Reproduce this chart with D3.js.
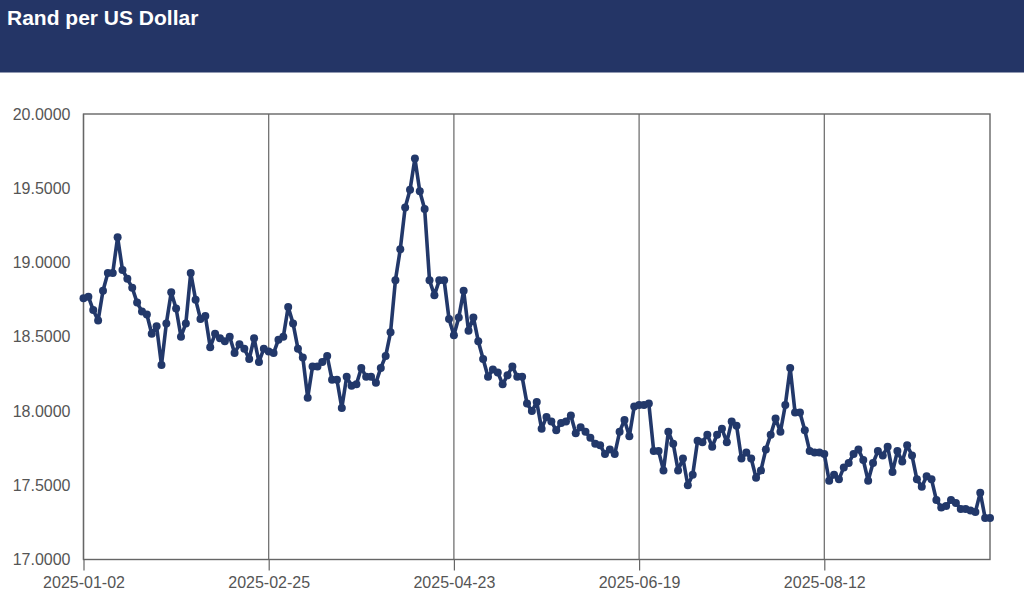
<!DOCTYPE html>
<html>
<head>
<meta charset="utf-8">
<script src="https://cdn.jsdelivr.net/npm/d3@7"></script>
<style>
  html, body { margin: 0; padding: 0; background: #fff; }
  svg { display: block; font-family: "Liberation Sans", Arial, sans-serif; }
</style>
</head>
<body>
<svg id="chart" width="1024" height="599"></svg>
<script>
const title = "Rand per US Dollar";

const dates = [
  "2025-01-02","2025-01-03","2025-01-06","2025-01-07","2025-01-08","2025-01-09","2025-01-10",
  "2025-01-13","2025-01-14","2025-01-15","2025-01-16","2025-01-17","2025-01-20","2025-01-21",
  "2025-01-22","2025-01-23","2025-01-24","2025-01-27","2025-01-28","2025-01-29","2025-01-30","2025-01-31",
  "2025-02-03","2025-02-04","2025-02-05","2025-02-06","2025-02-07","2025-02-10","2025-02-11",
  "2025-02-12","2025-02-13","2025-02-14","2025-02-17","2025-02-18","2025-02-19","2025-02-20",
  "2025-02-21","2025-02-24","2025-02-25","2025-02-26","2025-02-27","2025-02-28",
  "2025-03-03","2025-03-04","2025-03-05","2025-03-06","2025-03-07","2025-03-10","2025-03-11",
  "2025-03-12","2025-03-13","2025-03-14","2025-03-17","2025-03-18","2025-03-19","2025-03-20",
  "2025-03-24","2025-03-25","2025-03-26","2025-03-27","2025-03-28","2025-03-31",
  "2025-04-01","2025-04-02","2025-04-03","2025-04-04","2025-04-07","2025-04-08","2025-04-09",
  "2025-04-10","2025-04-11","2025-04-14","2025-04-15","2025-04-16","2025-04-17","2025-04-22",
  "2025-04-23","2025-04-24","2025-04-25","2025-04-29","2025-04-30",
  "2025-05-02","2025-05-05","2025-05-06","2025-05-07","2025-05-08","2025-05-09","2025-05-12",
  "2025-05-13","2025-05-14","2025-05-15","2025-05-16","2025-05-19","2025-05-20","2025-05-21",
  "2025-05-22","2025-05-23","2025-05-26","2025-05-27","2025-05-28","2025-05-29","2025-05-30",
  "2025-06-02","2025-06-03","2025-06-04","2025-06-05","2025-06-06","2025-06-09","2025-06-10",
  "2025-06-11","2025-06-12","2025-06-13","2025-06-17","2025-06-18","2025-06-19","2025-06-20",
  "2025-06-23","2025-06-24","2025-06-25","2025-06-26","2025-06-27","2025-06-30",
  "2025-07-01","2025-07-02","2025-07-03","2025-07-04","2025-07-07","2025-07-08","2025-07-09",
  "2025-07-10","2025-07-11","2025-07-14","2025-07-15","2025-07-16","2025-07-17","2025-07-18",
  "2025-07-21","2025-07-22","2025-07-23","2025-07-24","2025-07-25","2025-07-28","2025-07-29",
  "2025-07-30","2025-07-31",
  "2025-08-01","2025-08-04","2025-08-05","2025-08-06","2025-08-07","2025-08-08","2025-08-11",
  "2025-08-12","2025-08-13","2025-08-14","2025-08-15","2025-08-18","2025-08-19","2025-08-20",
  "2025-08-21","2025-08-22","2025-08-25","2025-08-26","2025-08-27","2025-08-28","2025-08-29",
  "2025-09-01","2025-09-02","2025-09-03","2025-09-04","2025-09-05","2025-09-08","2025-09-09",
  "2025-09-10","2025-09-11","2025-09-12","2025-09-15","2025-09-16","2025-09-17","2025-09-18",
  "2025-09-19","2025-09-22","2025-09-23","2025-09-25","2025-09-26","2025-09-29","2025-09-30"
];

const rates = [
  18.76,18.77,18.68,18.61,18.81,18.93,18.93,19.17,18.95,18.89,18.83,18.73,18.67,18.65,18.52,18.57,
  18.31,18.59,18.80,18.69,18.50,18.59,18.93,18.75,18.62,18.64,18.43,18.52,18.49,18.47,18.50,18.39,
  18.45,18.42,18.35,18.49,18.33,18.42,18.40,18.39,18.48,18.50,18.70,18.59,18.42,18.36,18.09,18.30,
  18.30,18.33,18.37,18.21,18.21,18.02,18.23,18.17,18.18,18.29,18.23,18.23,18.19,18.29,18.37,18.53,
  18.88,19.09,19.37,19.49,19.70,19.48,19.36,18.88,18.78,18.88,18.88,18.62,18.51,18.63,18.81,18.54,
  18.63,18.47,18.35,18.23,18.28,18.26,18.18,18.24,18.30,18.23,18.23,18.05,18.00,18.06,17.88,17.96,
  17.93,17.87,17.92,17.93,17.97,17.85,17.89,17.86,17.82,17.78,17.77,17.71,17.74,17.71,17.86,17.94,
  17.83,18.03,18.04,18.04,18.05,17.73,17.73,17.60,17.86,17.78,17.60,17.68,17.50,17.57,17.80,17.79,
  17.84,17.76,17.84,17.88,17.79,17.93,17.90,17.68,17.72,17.68,17.55,17.60,17.74,17.84,17.95,17.86,
  18.04,18.29,17.99,17.99,17.87,17.73,17.72,17.72,17.71,17.53,17.57,17.54,17.62,17.65,17.71,17.74,
  17.67,17.53,17.65,17.73,17.70,17.76,17.59,17.73,17.66,17.77,17.70,17.54,17.49,17.56,17.54,17.40,
  17.35,17.36,17.40,17.38,17.34,17.34,17.33,17.32,17.45,17.28,17.28
];

const xTickLabels = ["2025-01-02","2025-02-25","2025-04-23","2025-06-19","2025-08-12"];
const yTickValues = [17.0, 17.5, 18.0, 18.5, 19.0, 19.5, 20.0];

const svg = d3.select("#chart");
const W = 1024, H = 599;
const plot = { left: 83.5, right: 990, top: 114, bottom: 559.5 };
const navy = "#243566";
const lineColor = "#22386a";
const gridColor = "#666666";
const labelColor = "#555555";

// header band
svg.append("rect").attr("x", 0).attr("y", 0).attr("width", W).attr("height", 72.5).attr("fill", navy);
svg.append("text").attr("x", 7).attr("y", 25)
  .attr("fill", "#fff").attr("font-weight", "bold").attr("font-size", 21)
  .text(title);

const x = d3.scalePoint().domain(dates).range([plot.left, plot.right]);
const y = d3.scaleLinear().domain([17, 20]).range([plot.bottom, plot.top]);

// vertical gridlines
svg.append("g").selectAll("line").data(xTickLabels).join("line")
  .attr("x1", d => x(d)).attr("x2", d => x(d))
  .attr("y1", plot.top).attr("y2", plot.bottom)
  .attr("stroke", gridColor).attr("stroke-width", 1.2);

// frame
svg.append("rect")
  .attr("x", plot.left).attr("y", plot.top)
  .attr("width", plot.right - plot.left).attr("height", plot.bottom - plot.top)
  .attr("fill", "none").attr("stroke", gridColor).attr("stroke-width", 1.4);

// x axis
const xAxis = d3.axisBottom(x).tickValues(xTickLabels).tickSize(11).tickPadding(6);
const gx = svg.append("g").attr("transform", `translate(0,${plot.bottom})`).call(xAxis);
gx.select(".domain").remove();
gx.selectAll(".tick line").attr("stroke", gridColor).attr("stroke-width", 1.2);
gx.selectAll(".tick text").attr("fill", labelColor).attr("font-size", 16)
  .attr("font-family", "Liberation Sans, Arial, sans-serif");

// y axis
const yAxis = d3.axisLeft(y).tickValues(yTickValues).tickFormat(d3.format(".4f")).tickSize(0).tickPadding(13);
const gy = svg.append("g").attr("transform", `translate(${plot.left},0)`).call(yAxis);
gy.select(".domain").remove();
gy.selectAll(".tick text").attr("fill", labelColor).attr("font-size", 16)
  .attr("font-family", "Liberation Sans, Arial, sans-serif");

// series
const series = dates.map((d, i) => ({ date: d, value: rates[i] }));
svg.append("path").datum(series)
  .attr("fill", "none").attr("stroke", lineColor).attr("stroke-width", 3.6)
  .attr("stroke-linejoin", "round")
  .attr("d", d3.line().x(d => x(d.date)).y(d => y(d.value)));
svg.append("g").selectAll("circle").data(series).join("circle")
  .attr("cx", d => x(d.date)).attr("cy", d => y(d.value)).attr("r", 4)
  .attr("fill", lineColor);
</script>
</body>
</html>
